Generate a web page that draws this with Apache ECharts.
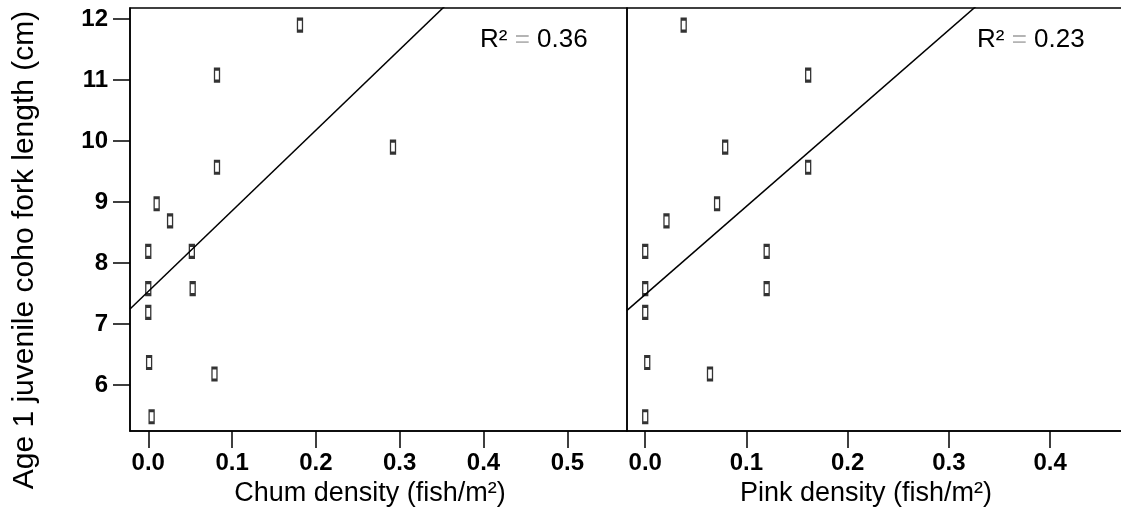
<!DOCTYPE html>
<html>
<head>
<meta charset="utf-8">
<script src="https://cdn.jsdelivr.net/npm/echarts@6/dist/echarts.min.js"></script>
<style>
  html, body { margin: 0; padding: 0; background: #fff; }
  #chart { width: 1121px; height: 521px; }
</style>
</head>
<body>
<div id="chart"></div>
<script>
// Fork length of age-1 juvenile coho (cm), one value per site
const forkLength  = [11.90, 11.08, 9.57, 9.90, 8.97, 8.69, 8.19, 8.19, 7.58, 7.58, 7.19, 6.37, 6.18, 5.48];
// Chum fry density at the same sites (fish/m²)
const chumDensity = [0.181, 0.082, 0.082, 0.292, 0.010, 0.026, 0.000, 0.052, 0.000, 0.053, 0.000, 0.001, 0.079, 0.004];
// Pink fry density at the same sites (fish/m²)
const pinkDensity = [0.038, 0.161, 0.161, 0.079, 0.071, 0.021, 0.000, 0.120, 0.000, 0.120, 0.000, 0.002, 0.064, 0.000];
// Coefficient of determination reported for each panel
const rSquared = ['0.36', '0.23'];

const lengthTicks = [6, 7, 8, 9, 10, 11, 12];
const chumTicks = [0.0, 0.1, 0.2, 0.3, 0.4, 0.5];
const pinkTicks = [0.0, 0.1, 0.2, 0.3, 0.4];

const FONT = 'Arial, "Liberation Sans", sans-serif';
const yRange = [5.246, 12.18];
const chumRange = [-0.0218, 0.5712];
const pinkRange = [-0.018, 0.476];

// ordinary least-squares line through (x, y)
function leastSquares(xs, ys) {
  const n = xs.length;
  const mx = xs.reduce((a, b) => a + b, 0) / n;
  const my = ys.reduce((a, b) => a + b, 0) / n;
  let sxy = 0, sxx = 0;
  for (let i = 0; i < n; i++) {
    sxy += (xs[i] - mx) * (ys[i] - my);
    sxx += (xs[i] - mx) * (xs[i] - mx);
  }
  const slope = sxy / sxx;
  return { slope, intercept: my - slope * mx };
}

function fitLine(xs, range) {
  const f = leastSquares(xs, forkLength);
  return range.map(x => [x, f.intercept + f.slope * x]);
}

function pairs(xs) {
  return xs.map((x, i) => [x, forkLength[i]]);
}

function xAxisFor(gridIndex, range, ticks) {
  return {
    type: 'value', gridIndex, min: range[0], max: range[1],
    axisLine: { show: true, onZero: false, lineStyle: { color: '#000', width: 1.5 } },
    axisTick: { show: true, length: 17, inside: false, customValues: ticks,
                lineStyle: { color: '#000', width: 1.5 } },
    axisLabel: { customValues: ticks, margin: 20, color: '#000', fontSize: 24,
                 fontWeight: 'bold', fontFamily: FONT, formatter: v => v.toFixed(1) },
    splitLine: { show: false }
  };
}

const markerStyle = {
  color: 'rgba(255,255,255,0)', borderColor: '#000', borderWidth: 2
};
const lineStyle = { color: '#000', width: 1.5 };

const chart = echarts.init(document.getElementById('chart'), null, { renderer: 'canvas' });
chart.setOption({
  animation: false,
  backgroundColor: '#fff',
  grid: [
    { left: 130, top: 8, width: 497, height: 423, show: true, outerBoundsMode: 'none',
      containLabel: false,
      borderColor: '#000', borderWidth: 1.5, backgroundColor: 'transparent' },
    { left: 627, top: 8, width: 500, height: 423, show: true, outerBoundsMode: 'none',
      containLabel: false,
      borderColor: '#000', borderWidth: 1.5, backgroundColor: 'transparent' }
  ],
  xAxis: [
    xAxisFor(0, chumRange, chumTicks),
    xAxisFor(1, pinkRange, pinkTicks)
  ],
  yAxis: [
    {
      type: 'value', gridIndex: 0, min: yRange[0], max: yRange[1],
      axisLine: { show: true, onZero: false, lineStyle: { color: '#000', width: 1.5 } },
      axisTick: { show: true, length: 17, customValues: lengthTicks,
                  lineStyle: { color: '#000', width: 1.5 } },
      axisLabel: { customValues: lengthTicks, margin: 22, color: '#000', fontSize: 24,
                   fontWeight: 'bold', fontFamily: FONT },
      splitLine: { show: false }
    },
    {
      type: 'value', gridIndex: 1, min: yRange[0], max: yRange[1],
      axisLine: { show: false, onZero: false }, axisTick: { show: false },
      axisLabel: { show: false }, splitLine: { show: false }
    }
  ],
  series: [
    { type: 'line', xAxisIndex: 0, yAxisIndex: 0, data: fitLine(chumDensity, chumRange),
      showSymbol: false, symbol: 'none', lineStyle, clip: true, silent: true, z: 1 },
    { type: 'scatter', xAxisIndex: 0, yAxisIndex: 0, data: pairs(chumDensity),
      symbol: 'rect', symbolSize: [5, 12], itemStyle: markerStyle, z: 2 },
    { type: 'line', xAxisIndex: 1, yAxisIndex: 1, data: fitLine(pinkDensity, pinkRange),
      showSymbol: false, symbol: 'none', lineStyle, clip: true, silent: true, z: 1 },
    { type: 'scatter', xAxisIndex: 1, yAxisIndex: 1, data: pairs(pinkDensity),
      symbol: 'rect', symbolSize: [5, 12], itemStyle: markerStyle, z: 2 }
  ],
  graphic: [
    { type: 'text', x: 25, y: 250, rotation: Math.PI / 2,
      style: { text: 'Age 1 juvenile coho fork length (cm)', font: '30px ' + FONT,
               fill: '#000', textAlign: 'center', textVerticalAlign: 'middle' } },
    { type: 'text', x: 370, y: 494,
      style: { text: 'Chum density (fish/m²)', font: '27px ' + FONT,
               fill: '#000', textAlign: 'center', textVerticalAlign: 'middle' } },
    { type: 'text', x: 866, y: 494,
      style: { text: 'Pink density (fish/m²)', font: '27px ' + FONT,
               fill: '#000', textAlign: 'center', textVerticalAlign: 'middle' } },
    { type: 'text', x: 480, y: 40,
      style: { text: 'R² {eq|=} ' + rSquared[0], font: '26px ' + FONT, fill: '#000',
               textAlign: 'left', textVerticalAlign: 'middle',
               rich: { eq: { fill: '#b4b4b4', font: '26px ' + FONT } } } },
    { type: 'text', x: 977, y: 40,
      style: { text: 'R² {eq|=} ' + rSquared[1], font: '26px ' + FONT, fill: '#000',
               textAlign: 'left', textVerticalAlign: 'middle',
               rich: { eq: { fill: '#b4b4b4', font: '26px ' + FONT } } } }
  ]
});
</script>
</body>
</html>
